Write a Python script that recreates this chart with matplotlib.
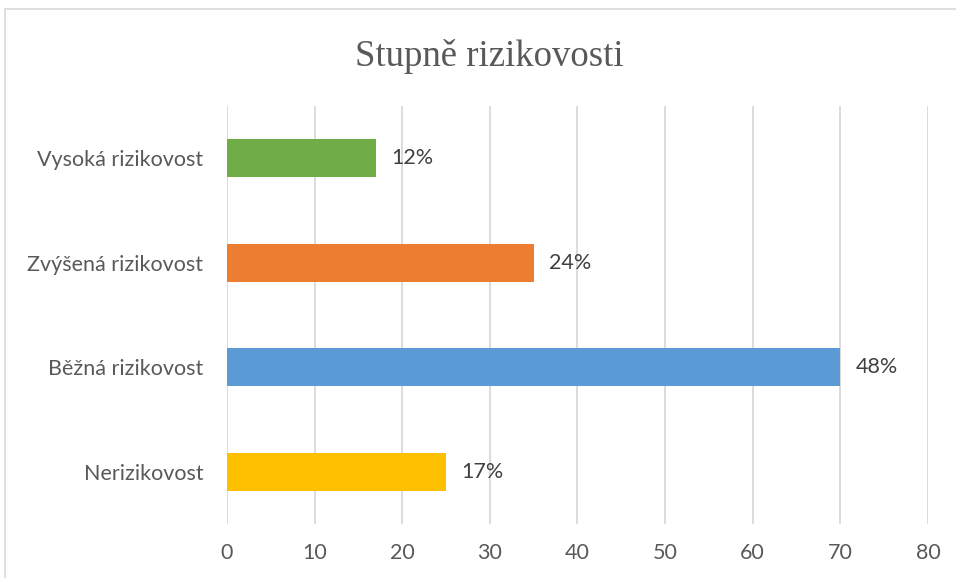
import matplotlib.pyplot as plt
from matplotlib.patches import Rectangle

categories = ["Nerizikovost", "Běžná rizikovost", "Zvýšená rizikovost", "Vysoká rizikovost"]
values = [25, 70, 35, 17]
percent_labels = ["17%", "48%", "24%", "12%"]
colors = ["#FFC000", "#5B9BD5", "#ED7D31", "#70AD47"]
x_ticks = [0, 10, 20, 30, 40, 50, 60, 70, 80]

plt.rcParams["font.family"] = ["Lato", "DejaVu Sans"]

fig = plt.figure(figsize=(9.56, 5.78), dpi=100)
ax = fig.add_axes([0.2374, 0.0934, 0.7333, 0.7232])

bars = ax.barh(range(len(categories)), values, height=0.365, color=colors, zorder=3)
for bar, lab in zip(bars, percent_labels):
    ax.annotate(lab, (bar.get_width(), bar.get_y() + bar.get_height() / 2),
                xytext=(11, 0), textcoords="offset points",
                va="center", ha="left", fontsize=15.5, color="#404040")

ax.set_xlim(0, 80)
ax.set_ylim(-0.5, len(categories) - 0.5)
ax.set_xticks(x_ticks)
ax.set_yticks(range(len(categories)))
ax.set_yticklabels(categories)
ax.tick_params(axis="both", length=0, labelsize=15.5, labelcolor="#595959")
ax.tick_params(axis="x", pad=14)
ax.tick_params(axis="y", pad=17)
ax.grid(axis="x", color="#D9D9D9", linewidth=1.3, zorder=0)
for s in ax.spines.values():
    s.set_visible(False)

fig.text(0.512, 0.903, "Stupně rizikovosti", ha="center", va="center",
         fontsize=26.5, color="#595959", family="Liberation Serif")

fig.patches.append(Rectangle((5 / 956, -0.05), 1.0, 1 - 9 / 578 + 0.05,
                             transform=fig.transFigure, fill=False,
                             edgecolor="#D9D9D9", linewidth=1.2))

fig.savefig("out.png", dpi=100)
